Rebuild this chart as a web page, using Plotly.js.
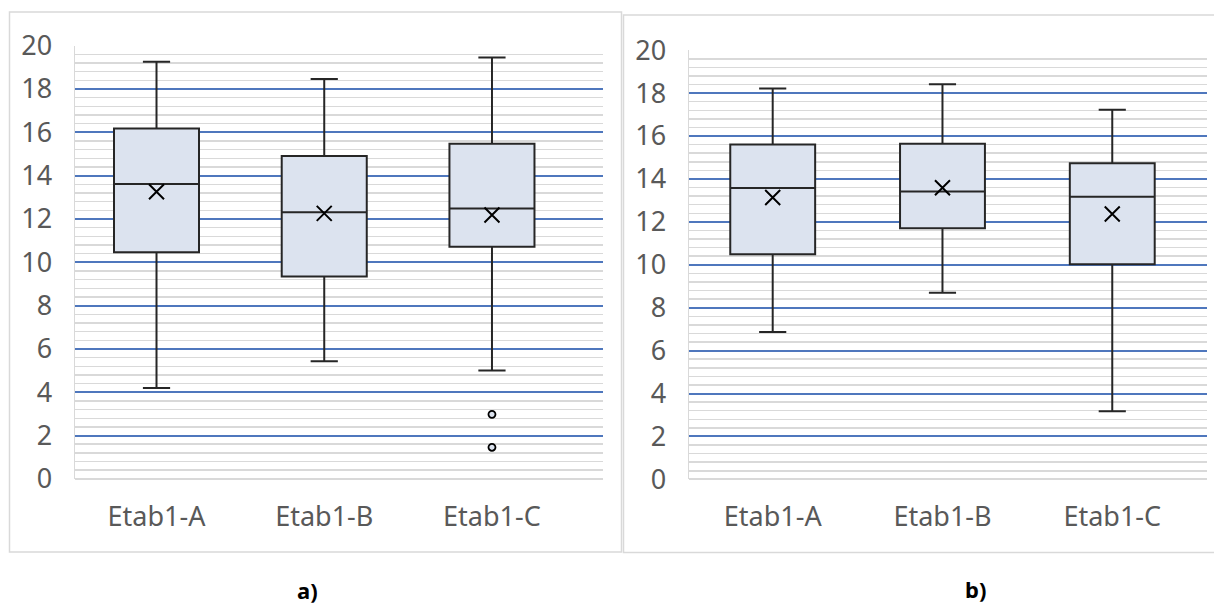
<!DOCTYPE html>
<html>
<head>
<meta charset="utf-8">
<script src="https://cdn.plot.ly/plotly-3.0.1.min.js"></script>
<style>html,body{margin:0;padding:0;background:#fff;}#chart{width:1214px;height:608px;}</style>
</head>
<body>
<div id="chart"></div>
<script>
const categories = ['Etab1-A', 'Etab1-B', 'Etab1-C'];
const yTickVals = [0, 2, 4, 6, 8, 10, 12, 14, 16, 18, 20];
const panelLabels = ['a)', 'b)'];

// panel a
const aLower  = [4.20, 5.43, 5.00];
const aQ1     = [10.46, 9.35, 10.72];
const aMedian = [13.61, 12.31, 12.48];
const aQ3     = [16.18, 14.91, 15.47];
const aUpper  = [19.26, 18.46, 19.46];
const aMean   = [13.26, 12.26, 12.18];
const aOutlierCat = ['Etab1-C', 'Etab1-C'];
const aOutlierVal = [2.98, 1.46];

// panel b
const bLower  = [6.87, 8.70, 3.17];
const bQ1     = [10.49, 11.70, 10.02];
const bMedian = [13.58, 13.41, 13.17];
const bQ3     = [15.61, 15.64, 14.73];
const bUpper  = [18.22, 18.41, 17.23];
const bMean   = [13.14, 13.59, 12.37];

const W = 1214, H = 608;
const px = v => v / W;
const py = v => 1 - v / H;

const boxStyle = {
  type: 'box', fillcolor: '#dce3ef',
  line: {color: '#262626', width: 2},
  whiskerwidth: 0.32, boxpoints: false, showlegend: false, hoverinfo: 'skip'
};
const meanStyle = {
  type: 'scatter', mode: 'markers', showlegend: false, hoverinfo: 'skip',
  marker: {symbol: 'x-thin', size: 15, color: '#000', line: {color: '#000', width: 2}}
};

const traces = [
  Object.assign({}, boxStyle, {x: categories, q1: aQ1, median: aMedian, q3: aQ3,
    lowerfence: aLower, upperfence: aUpper, width: 0.507, xaxis: 'x', yaxis: 'y'}),
  Object.assign({}, meanStyle, {x: categories, y: aMean, xaxis: 'x', yaxis: 'y'}),
  {type: 'scatter', mode: 'markers', x: aOutlierCat, y: aOutlierVal, xaxis: 'x', yaxis: 'y',
    showlegend: false, hoverinfo: 'skip',
    marker: {symbol: 'circle', size: 7, color: '#dce3ef', line: {color: '#000', width: 1.8}}},
  Object.assign({}, boxStyle, {x: categories, q1: bQ1, median: bMedian, q3: bQ3,
    lowerfence: bLower, upperfence: bUpper, width: 0.50, xaxis: 'x2', yaxis: 'y2'}),
  Object.assign({}, meanStyle, {x: categories, y: bMean, xaxis: 'x2', yaxis: 'y2'})
];

const tickFont = {family: 'Noto Sans, Open Sans, sans-serif', size: 27, color: '#595959'};

function yAxis(domain, anchor) {
  return {
    domain: domain, anchor: anchor, range: [0, 20], tickmode: 'array', tickvals: yTickVals,
    showgrid: true, gridcolor: '#4f77bd', gridwidth: 2,
    minor: {dtick: 0.4, showgrid: true, gridcolor: '#d9d9d9', gridwidth: 1.5, ticks: ''},
    zeroline: true, zerolinecolor: '#d9d9d9', zerolinewidth: 2,
    showline: true, linecolor: '#d9d9d9', linewidth: 1.5,
    ticks: '', tickfont: tickFont, ticklabelstandoff: 16, fixedrange: true
  };
}
function xAxis(domain, range, anchor) {
  return {
    domain: domain, anchor: anchor, type: 'category', categoryarray: categories, range: range,
    showgrid: false, zeroline: false, showline: false, ticks: '',
    tickfont: tickFont, ticklabelstandoff: 19, fixedrange: true
  };
}

const labelFont = {family: 'Noto Sans, sans-serif', size: 22, color: '#000'};

const layout = {
  width: W, height: H, margin: {l: 0, r: 0, t: 0, b: 0},
  paper_bgcolor: '#fff', plot_bgcolor: 'rgba(0,0,0,0)', showlegend: false,
  xaxis: xAxis([px(75), px(603)], [-0.486, 2.662], 'y'),
  yaxis: yAxis([py(478.9), py(45.7)], 'x'),
  xaxis2: xAxis([px(689), px(1207)], [-0.493, 2.558], 'y2'),
  yaxis2: yAxis([py(479.4), py(50.2)], 'x2'),
  shapes: [
    {type: 'rect', xref: 'paper', yref: 'paper', x0: px(9.5), x1: px(621.5), y0: py(552), y1: py(12),
      line: {color: '#d9d9d9', width: 1.5}, layer: 'below'},
    {type: 'rect', xref: 'paper', yref: 'paper', x0: px(623.5), x1: px(1220), y0: py(552.5), y1: py(15),
      line: {color: '#d9d9d9', width: 1.5}, layer: 'below'}
  ],
  annotations: [
    {text: '<b>' + panelLabels[0] + '</b>', xref: 'paper', yref: 'paper', x: px(307), y: py(590),
      xanchor: 'center', yanchor: 'middle', showarrow: false, font: labelFont},
    {text: '<b>' + panelLabels[1] + '</b>', xref: 'paper', yref: 'paper', x: px(975), y: py(589),
      xanchor: 'center', yanchor: 'middle', showarrow: false, font: labelFont}
  ]
};

Plotly.newPlot('chart', traces, layout, {staticPlot: true, displayModeBar: false});
</script>
</body>
</html>
